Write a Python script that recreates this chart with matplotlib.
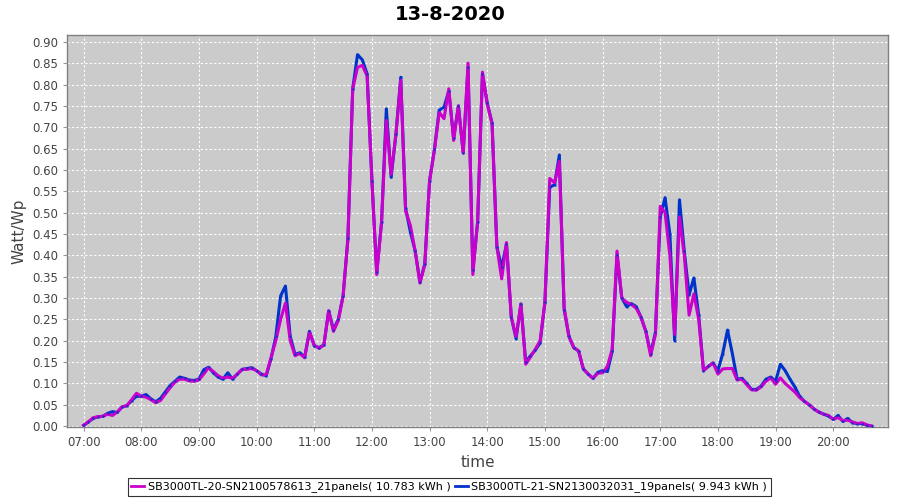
import matplotlib
matplotlib.use("Agg")
import matplotlib.pyplot as plt

# sample times every 5 minutes from 07:00 to 20:40
times = [f"{(7*60 + 5*i)//60:02d}:{(7*60 + 5*i)%60:02d}" for i in range(165)]

sb20 = [0.002, 0.010, 0.020, 0.022, 0.023, 0.028, 0.025, 0.033, 0.045, 0.048,
        0.062, 0.077, 0.070, 0.068, 0.062, 0.055, 0.060, 0.075, 0.090, 0.103,
        0.110, 0.110, 0.106, 0.105, 0.108, 0.122, 0.137, 0.128, 0.118, 0.112,
        0.115, 0.112, 0.122, 0.133, 0.133, 0.135, 0.130, 0.120, 0.120, 0.160,
        0.200, 0.250, 0.288, 0.200, 0.165, 0.170, 0.160, 0.220, 0.190, 0.182,
        0.190, 0.270, 0.222, 0.247, 0.305, 0.435, 0.790, 0.840, 0.845, 0.820,
        0.575, 0.355, 0.477, 0.716, 0.590, 0.684, 0.810, 0.505, 0.470, 0.410,
        0.335, 0.378, 0.575, 0.645, 0.735, 0.720, 0.790, 0.669, 0.750, 0.640,
        0.850, 0.355, 0.480, 0.829, 0.755, 0.708, 0.420, 0.345, 0.430, 0.255,
        0.210, 0.286, 0.145, 0.162, 0.180, 0.200, 0.290, 0.580, 0.570, 0.620,
        0.278, 0.210, 0.184, 0.176, 0.134, 0.122, 0.112, 0.124, 0.125, 0.140,
        0.180, 0.410, 0.300, 0.290, 0.285, 0.276, 0.255, 0.222, 0.165, 0.215,
        0.515, 0.500, 0.400, 0.215, 0.490, 0.400, 0.260, 0.310, 0.250, 0.130,
        0.140, 0.148, 0.122, 0.134, 0.135, 0.135, 0.108, 0.110, 0.097, 0.085,
        0.084, 0.092, 0.105, 0.113, 0.098, 0.113, 0.100, 0.090, 0.080, 0.067,
        0.058, 0.050, 0.040, 0.033, 0.028, 0.025, 0.016, 0.020, 0.013, 0.014,
        0.010, 0.006, 0.008, 0.003, 0.000]

sb21 = [0.002, 0.010, 0.018, 0.022, 0.023, 0.030, 0.034, 0.032, 0.045, 0.048,
        0.060, 0.070, 0.070, 0.074, 0.064, 0.057, 0.065, 0.080, 0.095, 0.105,
        0.115, 0.112, 0.108, 0.107, 0.110, 0.132, 0.138, 0.125, 0.115, 0.110,
        0.125, 0.110, 0.122, 0.133, 0.135, 0.137, 0.130, 0.122, 0.118, 0.158,
        0.210, 0.305, 0.328, 0.210, 0.168, 0.172, 0.162, 0.222, 0.188, 0.184,
        0.190, 0.270, 0.226, 0.250, 0.305, 0.440, 0.790, 0.870, 0.858, 0.825,
        0.575, 0.360, 0.477, 0.743, 0.583, 0.684, 0.817, 0.510, 0.455, 0.410,
        0.337, 0.380, 0.575, 0.648, 0.740, 0.747, 0.785, 0.675, 0.750, 0.640,
        0.840, 0.365, 0.478, 0.825, 0.756, 0.710, 0.420, 0.372, 0.426, 0.255,
        0.205, 0.286, 0.150, 0.165, 0.178, 0.195, 0.290, 0.560, 0.565, 0.635,
        0.273, 0.210, 0.184, 0.176, 0.134, 0.122, 0.112, 0.126, 0.130, 0.128,
        0.175, 0.400, 0.300, 0.280, 0.287, 0.280, 0.255, 0.222, 0.170, 0.220,
        0.490, 0.535, 0.450, 0.200, 0.530, 0.410, 0.308, 0.347, 0.260, 0.130,
        0.140, 0.148, 0.130, 0.170, 0.225, 0.170, 0.110, 0.112, 0.100, 0.086,
        0.086, 0.094, 0.110, 0.115, 0.105, 0.145, 0.130, 0.110, 0.092, 0.070,
        0.058, 0.050, 0.040, 0.033, 0.028, 0.024, 0.016, 0.025, 0.011, 0.018,
        0.008, 0.006, 0.006, 0.002, 0.000]

tick_labels = ["07:00", "08:00", "09:00", "10:00", "11:00", "12:00", "13:00",
               "14:00", "15:00", "16:00", "17:00", "18:00", "19:00", "20:00"]

label20 = "SB3000TL-20-SN2100578613_21panels( 10.783 kWh )"
label21 = "SB3000TL-21-SN2130032031_19panels( 9.943 kWh )"
title = "13-8-2020"

def to_min(s):
    h, m = s.split(":")
    return int(h) * 60 + int(m) - 7 * 60

x = [to_min(t) for t in times]

fig = plt.figure(figsize=(9, 5), dpi=100)
ax = fig.add_axes([0.0744, 0.146, 0.9123, 0.784])
ax.set_facecolor("#cbcbcb")

mag = "#cc00cc"
blue = "#0033cc"
ax.plot(x, sb21, color=blue, lw=2.2, zorder=3, solid_joinstyle="round")
ax.plot(x, sb20, color=mag, lw=2.2, zorder=4, solid_joinstyle="round")
ax.plot(x, sb21, ls="none", marker="s", ms=1.8, color=blue, mec="none", zorder=5)

ax.set_xlim(-17.3, 837)
ax.set_ylim(-0.002, 0.916)
ax.set_xticks([to_min(t) for t in tick_labels])
ax.set_xticklabels(tick_labels)
ax.set_yticks([i * 0.05 for i in range(19)])
ax.set_yticklabels([f"{i*0.05:.2f}" for i in range(19)])
ax.tick_params(labelsize=8.5, colors="#444444", length=3, width=0.8, color="#999999")
ax.grid(True, color="white", ls=(0, (2, 2)), lw=0.8)
ax.set_axisbelow(True)
for s in ax.spines.values():
    s.set_color("#808080")
    s.set_linewidth(1.0)

ax.set_xlabel("time", fontsize=11, color="#444444", labelpad=4)
ax.set_ylabel("Watt/Wp", fontsize=11, color="#444444", labelpad=4)
fig.suptitle(title, fontsize=14, fontweight="bold", y=0.99)

handles = [plt.Line2D([], [], color=mag, lw=2), plt.Line2D([], [], color=blue, lw=2)]
leg = fig.legend(handles, [label20, label21], loc="center", bbox_to_anchor=(0.499, 0.026),
                 ncol=2, fontsize=8, frameon=True, fancybox=False, handlelength=1.2,
                 handletextpad=0.3, columnspacing=0.4, borderpad=0.3)
leg.get_frame().set_edgecolor("black")
leg.get_frame().set_linewidth(0.8)

fig.savefig("out.png", dpi=100)
